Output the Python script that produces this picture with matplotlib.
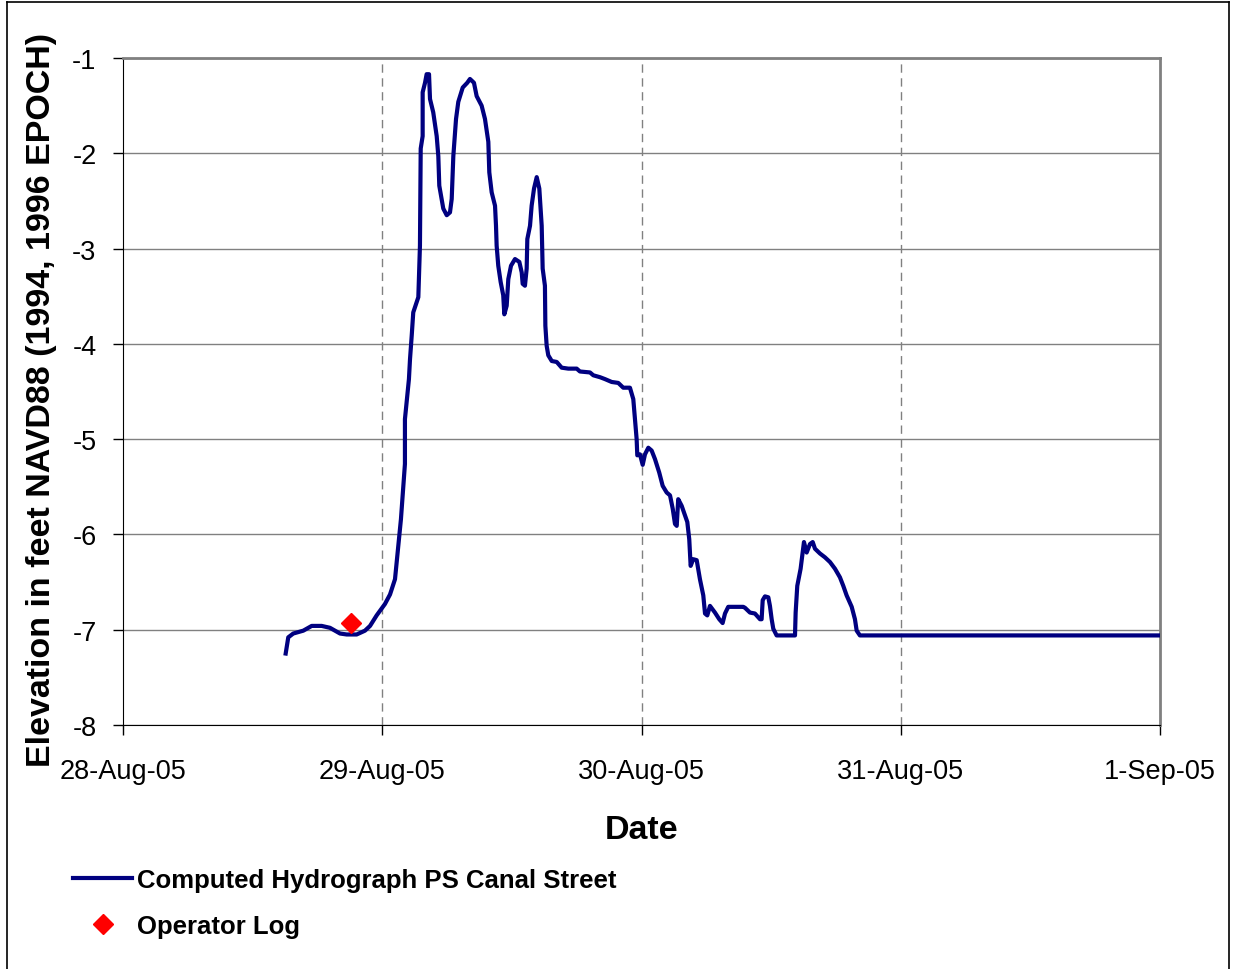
import matplotlib
matplotlib.use('agg')
import matplotlib.pyplot as plt
from matplotlib.lines import Line2D
import numpy as np

plt.rcParams['font.family'] = ['Liberation Sans', 'DejaVu Sans']

# hours after 28-Aug-05 00:00, elevation in ft NAVD88
hours = [15.06, 15.30, 15.76, 16.69, 17.47, 18.39, 19.16, 20.09, 20.71, 21.63,
         22.40, 22.87, 23.48, 24.25, 24.72, 25.18, 25.36, 25.73, 26.10, 26.10,
         26.29, 26.47, 26.57, 26.73, 26.87, 27.34, 27.49, 27.56, 27.74, 27.74,
         27.96, 28.11, 28.33, 28.42, 28.72, 29.04, 29.19, 29.28, 29.50, 29.65,
         29.97, 30.27, 30.43, 30.58, 30.83, 31.04, 31.45, 31.87, 32.12, 32.49,
         32.74, 33.20, 33.51, 33.82, 33.91, 34.13, 34.44, 34.53, 34.59, 34.74,
         34.96, 35.20, 35.30, 35.52, 35.67, 35.92, 36.29, 36.69, 36.91, 37.00,
         37.21, 37.37, 37.43, 37.68, 37.83, 38.05, 38.30, 38.54, 38.76, 38.85,
         39.06, 39.10, 39.22, 39.37, 39.69, 40.15, 40.61, 41.22, 42.00, 42.30,
         43.23, 43.54, 44.16, 44.62, 45.24, 45.85, 46.31, 46.93, 47.24, 47.40,
         47.55, 47.61, 47.86, 48.11, 48.32, 48.63, 48.94, 49.25, 49.64, 49.96,
         50.33, 50.64, 50.89, 51.10, 51.26, 51.40, 51.72, 52.02, 52.24, 52.42,
         52.55, 52.79, 53.11, 53.41, 53.72, 53.88, 54.09, 54.34, 54.80, 55.20,
         55.51, 55.73, 56.03, 56.81, 57.42, 57.58, 58.04, 58.50, 58.97, 59.12,
         59.22, 59.43, 59.74, 59.89, 60.05, 60.20, 60.51, 62.21, 62.27, 62.42,
         62.73, 62.92, 63.04, 63.29, 63.60, 63.85, 64.06, 64.52, 64.98, 65.45,
         65.91, 66.37, 66.68, 66.99, 67.46, 67.76, 67.92, 68.22, 96.00]
elev = [-7.25, -7.08, -7.04, -7.01, -6.96, -6.96, -6.98, -7.04, -7.05, -7.05,
        -7.01, -6.96, -6.85, -6.73, -6.63, -6.47, -6.26, -5.84, -5.26, -4.79,
        -4.58, -4.37, -4.16, -3.91, -3.67, -3.51, -2.97, -1.95, -1.82, -1.36,
        -1.26, -1.17, -1.17, -1.43, -1.57, -1.82, -2.03, -2.34, -2.48, -2.58,
        -2.65, -2.62, -2.48, -2.03, -1.64, -1.46, -1.31, -1.26, -1.22, -1.26,
        -1.40, -1.50, -1.64, -1.88, -2.20, -2.41, -2.55, -2.76, -2.97, -3.18,
        -3.35, -3.49, -3.69, -3.60, -3.32, -3.18, -3.11, -3.14, -3.25, -3.37,
        -3.39, -3.21, -2.90, -2.76, -2.55, -2.37, -2.25, -2.37, -2.76, -3.21,
        -3.39, -3.81, -4.02, -4.12, -4.18, -4.19, -4.25, -4.26, -4.26, -4.29,
        -4.30, -4.33, -4.35, -4.37, -4.40, -4.41, -4.46, -4.46, -4.58, -4.79,
        -5.00, -5.17, -5.16, -5.27, -5.16, -5.09, -5.12, -5.21, -5.35, -5.49,
        -5.56, -5.59, -5.73, -5.89, -5.91, -5.63, -5.70, -5.80, -5.87, -6.05,
        -6.33, -6.26, -6.27, -6.47, -6.64, -6.83, -6.85, -6.75, -6.82, -6.89,
        -6.93, -6.83, -6.76, -6.76, -6.76, -6.77, -6.82, -6.83, -6.89, -6.89,
        -6.69, -6.65, -6.66, -6.75, -6.89, -6.99, -7.06, -7.06, -6.82, -6.54,
        -6.36, -6.19, -6.08, -6.19, -6.10, -6.08, -6.15, -6.20, -6.24, -6.29,
        -6.36, -6.45, -6.54, -6.64, -6.76, -6.89, -7.01, -7.06, -7.06]

log_hours = [21.1]
log_elev = [-6.93]

day_ticks = [0, 24, 48, 72, 96]
day_labels = ['28-Aug-05', '29-Aug-05', '30-Aug-05', '31-Aug-05', '1-Sep-05']
yticks = [-8, -7, -6, -5, -4, -3, -2, -1]

fig = plt.figure(figsize=(12.33, 9.70), dpi=100)
ax = fig.add_axes([123/1233., 1-726/970., (1160-123)/1233., (726-59)/970.])

# grid
for yv in yticks:
    ax.axhline(yv, color='#808080', lw=1.0, zorder=1)
for xv in day_ticks[1:-1]:
    ax.axvline(xv, color='#808080', lw=1.0, ls=(0, (6, 4)), zorder=1)

ax.plot(hours, elev, color='#000080', lw=3.0, zorder=3,
        label='Computed Hydrograph PS Canal Street')
ax.plot(log_hours, log_elev, ls='none', marker='D', color='#ff0000',
        markersize=10, zorder=4, label='Operator Log')

ax.set_xlim(0, 96)
ax.set_ylim(-8, -1)
ax.set_xticks(day_ticks)
ax.set_xticklabels(day_labels)
ax.set_yticks(yticks)
ax.set_yticklabels([str(v) for v in yticks])
ax.tick_params(axis='x', direction='out', length=7, width=1, pad=16.5, labelsize=19.5)
ax.tick_params(axis='y', direction='out', length=7, width=1, pad=12, labelsize=19.5)

ax.spines['left'].set_color('black')
ax.spines['bottom'].set_color('black')
ax.spines['top'].set_color('#808080')
ax.spines['right'].set_color('#808080')
ax.spines['top'].set_linewidth(2)
ax.spines['right'].set_linewidth(2)

ax.set_xlabel('Date', fontsize=24.5, fontweight='bold')
ax.xaxis.set_label_coords(0.5, -(815-726)/667.)
ax.set_ylabel('Elevation in feet NAVD88 (1994, 1996 EPOCH)', fontsize=24.5, fontweight='bold')
ax.yaxis.set_label_coords(-(123-57)/1037., (726-400)/667.)

leg = fig.legend(loc='upper left', bbox_to_anchor=(73/1233., 1-869/970.),
                 frameon=False, fontsize=18.5, handlelength=2.3, handletextpad=0.2,
                 labelspacing=0.85, borderpad=0, borderaxespad=0)
for t in leg.get_texts():
    t.set_fontweight('bold')

# outer frame
for xs, ys in [([7, 7], [0, 967]), ([7, 1229], [967, 967]), ([1229, 1229], [967, 0])]:
    fig.add_artist(Line2D([x/1233. for x in xs], [y/970. for y in ys],
                          color='black', lw=1.2))

fig.savefig('out.png', dpi=100)
